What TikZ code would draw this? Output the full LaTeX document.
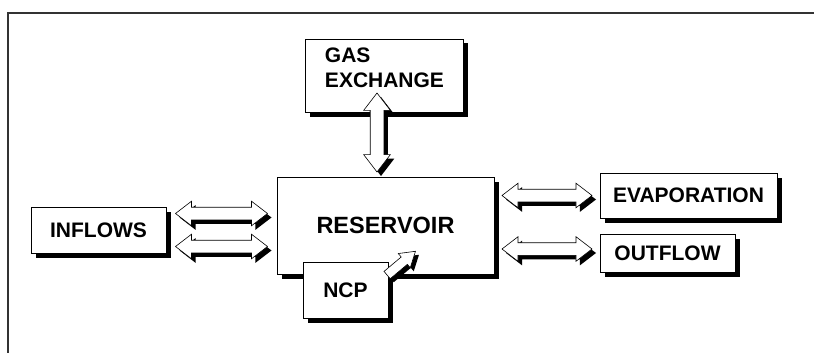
\documentclass[tikz,border=0pt]{standalone}
\usepackage{fontspec}
\setmainfont{Liberation Sans}
\usetikzlibrary{positioning,calc,shapes.arrows,shadows}

\tikzset{
  blackshadow/.style={general shadow={fill=black,shadow xshift=#1,shadow yshift=-#1}},
  box/.style={draw,fill=white,line width=0.8pt,inner sep=0pt,
    font=\fontsize{21}{25}\selectfont\bfseries,blackshadow=4.5pt},
  dblarrow/.style={double arrow,draw,fill=white,line width=0.6pt,inner xsep=0pt,
    inner ysep=6pt,minimum width=24pt,double arrow head extend=6pt,
    double arrow tip angle=75,blackshadow=4pt},
  sglarrow/.style={single arrow,draw,fill=white,line width=0.6pt,inner xsep=0pt,
    inner ysep=4.5pt,minimum width=18pt,single arrow head extend=4.5pt,
    single arrow tip angle=65,blackshadow=3.5pt},
  frame/.style={draw=black!80,line width=1.5pt}
}

\begin{document}
\begin{tikzpicture}[x=1pt,y=-1pt]
\useasboundingbox (0,0) rectangle (814,353);
\draw[frame] (814,13) -- (8,13) -- (8,353);

% boxes
\node[box,minimum width=158pt,minimum height=73pt] (gas) at (384,75.5) {};
\node[font=\fontsize{21}{25}\selectfont\bfseries,align=left] (gaslabel) at (384.5,68) {GAS\\EXCHANGE};
\node[box,minimum width=217pt,minimum height=97pt,
  font=\fontsize{23.5}{28}\selectfont\bfseries] (reservoir) at (385.5,225.5) {RESERVOIR};
\node[box,minimum width=135pt,minimum height=46pt] (inflows) at (98.5,230) {INFLOWS};
\node[box,minimum width=177pt,minimum height=45pt] (evap) at (688.5,195.5) {EVAPORATION};
\node[box,minimum width=135pt,minimum height=38pt] (outflow) at (667.5,253) {OUTFLOW};
\node[box,minimum width=85pt,minimum height=56pt] (ncp) at (345.5,290) {NCP};

% block arrows
\node[dblarrow,minimum height=92pt] (inarrowa)
  at ($(inflows.east)!.5!(reservoir.west|-inflows.east)+(0,-16.5)$) {};
\node[dblarrow,minimum height=92pt] (inarrowb)
  at ($(inflows.east)!.5!(reservoir.west|-inflows.east)+(0,16.5)$) {};
\node[dblarrow,minimum height=90pt] (evaparrow)
  at ($(reservoir.east|-evap.west)!.5!(evap.west)$) {};
\node[dblarrow,minimum height=90pt] (outarrow)
  at ($(reservoir.east|-outflow.west)!.5!(outflow.west)+(0,-4)$) {};
\node[dblarrow,minimum height=79pt,inner ysep=6.5pt,minimum width=26pt,
  double arrow head extend=6.5pt,rotate=90] (gasarrow)
  at ($(gas.south)!.5!(gas.south|-reservoir.north)+(-7,-12)$) {};
\node[sglarrow,minimum height=37pt,rotate=40] (ncparrow)
  at ([shift={(10,4)}]ncp.north east) {};
\end{tikzpicture}
\end{document}
